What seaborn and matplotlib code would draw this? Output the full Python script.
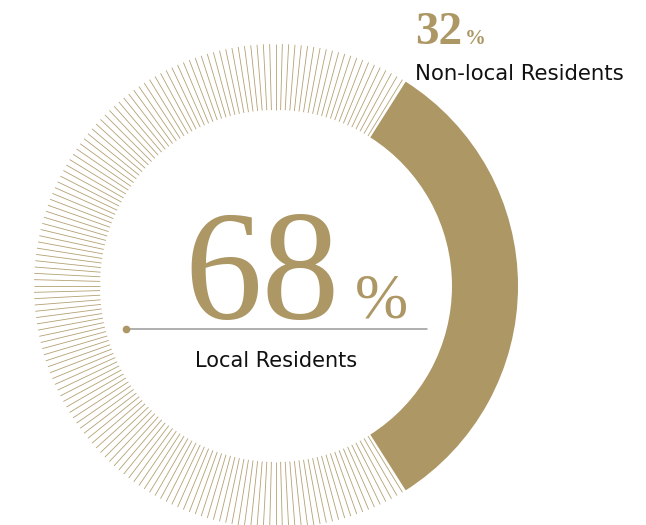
import numpy as np
import seaborn as sns
import matplotlib.pyplot as plt
from matplotlib.collections import LineCollection

# data
labels = ["Local Residents", "Non-local Residents"]
shares = [68, 32]

GOLD = "#ac9765"
W, H = 646, 525
CX, CY = 276, 286
R_OUT, R_IN = 242, 176

sns.set_theme(style="white")
plt.rcParams["font.family"] = ["DejaVu Sans"]

fig = plt.figure(figsize=(W / 100, H / 100), dpi=100)
ax = fig.add_axes([0, 0, 1, 1])

# solid arc for the smaller share, centred on the right side
span = shares[1] / sum(shares) * 360
ax.pie([shares[1], sum(shares) - shares[1]], startangle=-span / 2,
       colors=[GOLD, "none"], center=(CX, CY), radius=R_OUT,
       wedgeprops=dict(width=R_OUT - R_IN, linewidth=0))

# thin radial lines for the larger share
step = 1.5
ang = np.deg2rad(np.arange(span / 2 + 0.9, 360 - span / 2 - 0.5, step))
segs = [[(CX + R_IN * np.cos(a), CY + R_IN * np.sin(a)),
         (CX + R_OUT * np.cos(a), CY + R_OUT * np.sin(a))] for a in ang]
ax.add_collection(LineCollection(segs, colors=GOLD, linewidths=0.6, alpha=0.9))

# big centre number
ax.text(184, 318, f"{shares[0]}", family=["Liberation Serif"], fontsize=112,
        color=GOLD, ha="left", va="baseline")
ax.text(355, 318, "%", family=["Liberation Serif"], fontsize=46,
        color=GOLD, ha="left", va="baseline")
ax.plot([126, 427], [329, 329], color="#9a9a9a", lw=1.1)
ax.plot([126], [329], "o", color=GOLD, ms=4.5)
ax.text(276, 367, labels[0], fontsize=15, color="#111111",
        ha="center", va="baseline")

# top-right label
ax.text(415, 44, f"{shares[1]}", family=["Liberation Serif"], fontsize=34,
        fontweight="bold", color=GOLD, ha="left", va="baseline")
ax.text(465, 44, "%", family=["Liberation Serif"], fontsize=15,
        fontweight="bold", color=GOLD, ha="left", va="baseline")
ax.text(415, 80, labels[1], fontsize=15.3, color="#111111",
        ha="left", va="baseline")

ax.set_xlim(0, W)
ax.set_ylim(H, 0)
ax.set_aspect("equal")
ax.axis("off")

fig.savefig("out.png", dpi=100, facecolor="white")
